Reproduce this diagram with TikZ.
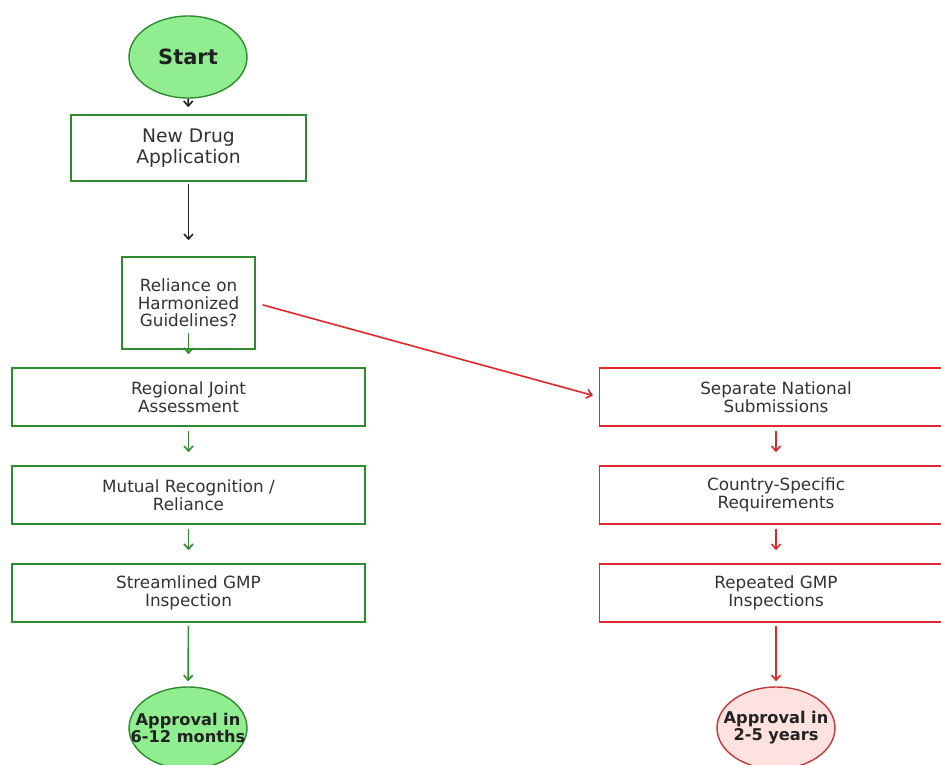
\documentclass[tikz,border=0pt]{standalone}
\usepackage{fontspec}
\setmainfont{DejaVu Sans}
\usetikzlibrary{shapes.geometric,arrows.meta}
\definecolor{gstroke}{HTML}{2E8B2E}
\definecolor{gfill}{HTML}{90EE90}
\definecolor{rstroke}{HTML}{E0282C}
\definecolor{rell}{HTML}{C03A3A}
\definecolor{rfill}{HTML}{FFE1DF}
\definecolor{txt}{HTML}{333333}
\definecolor{btxt}{HTML}{222222}
\tikzset{
  gbox/.style={draw=gstroke, line width=1.6pt, fill=white, rectangle, inner sep=0pt, align=center, text=txt, font=\fontsize{16.8}{17.5}\selectfont},
  rbox/.style={draw=rstroke, line width=1.6pt, fill=white, rectangle, inner sep=0pt, align=center, text=txt, font=\fontsize{16.8}{17.5}\selectfont},
  gell/.style={draw=gstroke, line width=1.4pt, fill=gfill, ellipse, inner sep=0pt, minimum width=118pt, minimum height=82pt, align=center, text=btxt},
  rell/.style={draw=rell, line width=1.4pt, fill=rfill, ellipse, inner sep=0pt, minimum width=118pt, minimum height=82pt, align=center, text=btxt},
  shrink/.style={inner xsep=-40pt, inner ysep=-20pt},
  wide/.style={minimum width=353pt, minimum height=58pt},
  karrow/.style={draw=black!85, line width=1.6pt, -{Straight Barb[length=5pt,width=9pt]}},
  garrow/.style={draw=gstroke, line width=1.6pt, -{Straight Barb[length=5pt,width=9pt]}},
  rarrow/.style={draw=rstroke, line width=1.6pt, -{Straight Barb[length=5pt,width=9pt]}},
}
\begin{document}
\begin{tikzpicture}[x=1pt,y=-1pt]
\useasboundingbox (0,0) rectangle (941,764);
\clip (0,0) rectangle (941,764);
\fill[white] (0,0) rectangle (941,764);

\node[gell, font=\fontsize{21}{24}\bfseries] (start) at (188,57) {Start};
\node[gbox, minimum width=235pt, minimum height=66pt, font=\fontsize{18.7}{21}\selectfont] (nda) at (188.5,148) {New Drug\\Application};
\node[gbox, minimum width=133pt, minimum height=92pt] (rel) at (188.5,303) {Reliance on\\Harmonized\\Guidelines?};

\node[gbox, wide] (rja) at (188.5,397) {Regional Joint\\Assessment};
\node[gbox, wide] (mrr) at (188.5,495) {Mutual Recognition /\\Reliance};
\node[gbox, wide] (sgi) at (188.5,593) {Streamlined GMP\\Inspection};
\node[gell, shrink, font=\fontsize{16.2}{17}\bfseries] (ag) at (188,728) {Approval in\\6-12 months};

\node[rbox, wide] (sns) at (776,397) {Separate National\\Submissions};
\node[rbox, wide] (csr) at (776,495) {Country-Specific\\Requirements};
\node[rbox, wide] (rgi) at (776,593) {Repeated GMP\\Inspections};
\node[rell, shrink, font=\fontsize{16.2}{17}\bfseries] (ar) at (776,728) {Approval in\\2-5 years};

\draw[karrow, shorten >=7pt] (start) -- (nda);
\draw[karrow, shorten <=2pt, shorten >=16pt] (nda) -- (rel);
\draw[garrow] ([yshift=17pt]rel.south) -- ([yshift=13pt]rja.north);
\draw[garrow, shorten <=4pt, shorten >=13pt] (rja) -- (mrr);
\draw[garrow, shorten <=4pt, shorten >=13pt] (mrr) -- (sgi);
\draw[garrow, shorten <=3pt, shorten >=5pt] (sgi) -- (ag);

\draw[rarrow, shorten <=7pt, shorten >=6pt] (rel.east) -- (sns.west);
\draw[rarrow, shorten <=4pt, shorten >=13pt] (sns) -- (csr);
\draw[rarrow, shorten <=4pt, shorten >=13pt] (csr) -- (rgi);
\draw[rarrow, shorten <=3pt, shorten >=5pt] (rgi) -- (ar);
\end{tikzpicture}
\end{document}
